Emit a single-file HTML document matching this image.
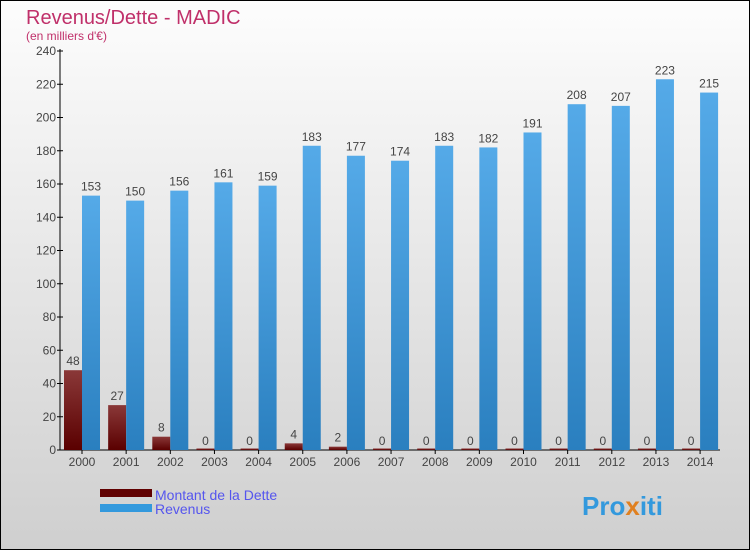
<!DOCTYPE html>
<html><head><meta charset="utf-8"><style>
body{margin:0;width:750px;height:550px;overflow:hidden;font-family:"Liberation Sans",sans-serif;}
</style></head><body>
<svg width="750" height="550" xmlns="http://www.w3.org/2000/svg">
<defs>
<linearGradient id="bg" x1="0" y1="0" x2="0" y2="1"><stop offset="0" stop-color="#fdfdfd"/><stop offset="1" stop-color="#cfcfcf"/></linearGradient>
<linearGradient id="gd" x1="0" y1="0" x2="0" y2="1"><stop offset="0" stop-color="#8a3838"/><stop offset="1" stop-color="#5a0000"/></linearGradient>
<linearGradient id="gr" x1="0" y1="0" x2="0" y2="1"><stop offset="0" stop-color="#55aae8"/><stop offset="1" stop-color="#2a7fbf"/></linearGradient>
</defs>
<rect x="0.5" y="0.5" width="749" height="549" fill="url(#bg)" stroke="#000"/>
<text x="26" y="24" font-size="20" fill="#c0306a">Revenus/Dette - MADIC</text>
<text x="26" y="40" font-size="12" fill="#c0306a">(en milliers d'€)</text>
<g id="axes"></g>
<g id="bars"></g>
<g>
<rect x="100" y="489" width="52" height="8" fill="#600000"/>
<text x="155" y="500" font-size="14" fill="#5555ee">Montant de la Dette</text>
<rect x="100" y="504" width="52" height="8" fill="#3399dd"/>
<text x="155" y="514" font-size="14" fill="#5555ee">Revenus</text>
</g>
<text x="582" y="515" font-size="26" font-weight="bold" fill="#3399dd">Pro<tspan fill="#e08020">x</tspan>iti</text>
</svg>
<script>
const years=["2000","2001","2002","2003","2004","2005","2006","2007","2008","2009","2010","2011","2012","2013","2014"];
const dette=[48,27,8,0,0,4,2,0,0,0,0,0,0,0,0];
const revenus=[153,150,156,161,159,183,177,174,183,182,191,208,207,223,215];
const ticks=[0,20,40,60,80,100,120,140,160,180,200,220,240];
const NS="http://www.w3.org/2000/svg";
const y0=450,ymax=240,ytop=51,x0=82,step=44.15,bw=18;
const Y=v=>y0-(v/ymax)*(y0-ytop);
const X=i=>x0+i*step;
function mk(t,a,p){const e=document.createElementNS(NS,t);for(const k in a)e.setAttribute(k,a[k]);p.appendChild(e);return e;}
const ax=document.getElementById('axes'),bars=document.getElementById('bars');
const yl=mk('line',{x1:60,y1:ytop-2,x2:60,y2:y0,stroke:'#000'},ax);


const xl=mk('line',{x1:60,y1:y0,x2:720,y2:y0,stroke:'#000'},ax);


ticks.forEach(t=>{
 mk('line',{x1:57,y1:Y(t),x2:63,y2:Y(t),stroke:'#000'},ax);
 const tx=mk('text',{x:56,y:Y(t)+4,'font-size':12,fill:'#444','text-anchor':'end'},ax);tx.textContent=t;
 
 
});
years.forEach((yr,i)=>{
 const c=X(i);
 mk('line',{x1:c,y1:y0,x2:c,y2:y0+4,stroke:'#000'},ax);
 const tx=mk('text',{x:c,y:y0+16,'font-size':12,fill:'#444','text-anchor':'middle'},ax);tx.textContent=yr;
 
 
 const d=dette[i],r=revenus[i];
 const hd=Math.max(y0-Y(d),1.5);
 const b1=mk('rect',{x:c-bw,y:y0-hd,width:bw,height:hd,fill:'url(#gd)'},bars);
 
 
 const l1=mk('text',{x:c-bw/2,y:Y(d)-5,'font-size':12,fill:'#444','text-anchor':'middle'},bars);l1.textContent=d;
 
 
 const b2=mk('rect',{x:c,y:Y(r),width:bw,height:y0-Y(r),fill:'url(#gr)'},bars);
 
 
 const l2=mk('text',{x:c+bw/2,y:Y(r)-5,'font-size':12,fill:'#444','text-anchor':'middle'},bars);l2.textContent=r;
 
 
});
</script>
</body></html>
